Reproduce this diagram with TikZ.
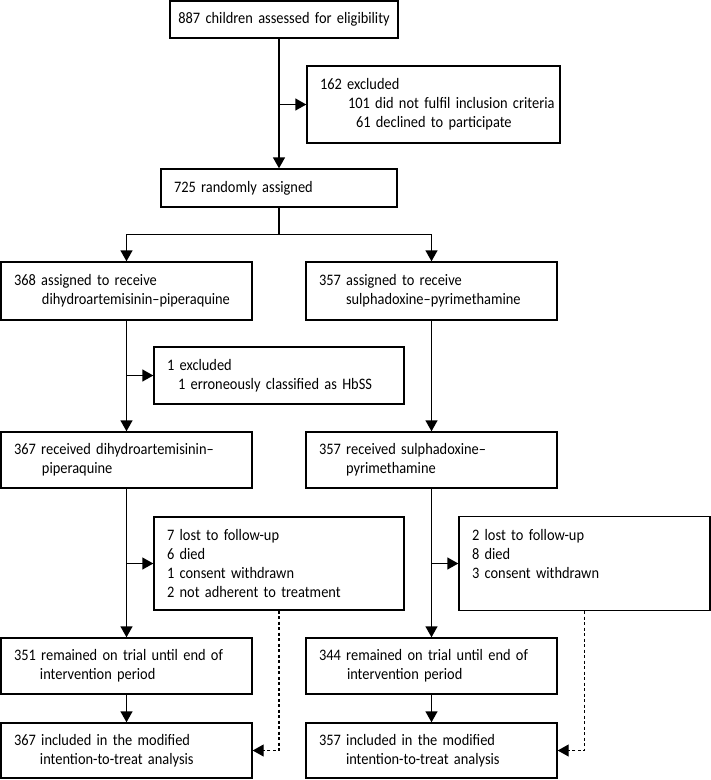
\documentclass[tikz,border=0pt]{standalone}
\usepackage{fontspec}
\setmainfont{Carlito}[FakeStretch=0.9]
\usetikzlibrary{arrows.meta}
\begin{document}
\begin{tikzpicture}[x=1pt,y=-1pt,
  box/.style={draw, line width=1.4pt, inner xsep=13pt, inner ysep=0pt, align=left,
    font=\fontsize{16}{18.8}\selectfont},
  arr/.style={line width=1.4pt, -{Triangle[width=12pt,length=11pt]}},
  darr/.style={line width=1.1pt, dash pattern=on 3pt off 2.5pt, -{Triangle[width=12pt,length=11pt]}}]
\useasboundingbox (0,0) rectangle (711,780);
\node[box, inner xsep=4pt, text width=220pt, minimum height=37pt, align=center] (B1) at (284,19.5) {887 children assessed for eligibility};
\node[box, text width=227pt, minimum height=77pt] (B2) at (433.5,104.5) {162 excluded\\\mbox{\hspace*{28pt}101 did not fulfil inclusion criteria}\\\hspace*{36pt}61 declined to participate};
\node[box, text width=210pt, minimum height=38pt] (B3) at (279,188) {725 randomly assigned};
\node[box, text width=225pt, minimum height=58pt] (B4) at (126.5,291) {368 assigned to receive\\\hspace*{28pt}dihydroartemisinin–piperaquine};
\node[box, text width=225pt, minimum height=58pt] (B5) at (431.5,291) {357 assigned to receive\\\hspace*{27pt}sulphadoxine–pyrimethamine};
\node[box, text width=224pt, minimum height=57pt] (B6) at (279,375.5) {1 excluded\\\hspace*{11pt}1 erroneously classified as HbSS};
\node[box, text width=225pt, minimum height=56pt] (B7) at (126.5,460) {367 received dihydroartemisinin–\\\hspace*{28pt}piperaquine};
\node[box, text width=225pt, minimum height=56pt] (B8) at (431.5,460) {357 received sulphadoxine–\\\hspace*{27pt}pyrimethamine};
\node[box, text width=224pt, minimum height=93pt] (B9) at (279,563.5) {7 lost to follow-up\\6 died\\1 consent withdrawn\\2 not adherent to treatment};
\node[box, text width=225pt, minimum height=94pt] (B10) at (584.5,563.5) {2 lost to follow-up\\8 died\\3 consent withdrawn\\\mbox{}};
\node[box, text width=225pt, minimum height=56pt] (B11) at (126.5,666) {351 remained on trial until end of\\\hspace*{26pt}intervention period};
\node[box, text width=225pt, minimum height=56pt] (B12) at (431.5,666) {344 remained on trial until end of\\\hspace*{28pt}intervention period};
\node[box, text width=225pt, minimum height=55pt] (B13) at (126.5,750.5) {367 included in the modified\\\hspace*{26pt}intention-to-treat analysis};
\node[box, text width=225pt, minimum height=55pt] (B14) at (431.5,750.5) {357 included in the modified\\\hspace*{27pt}intention-to-treat analysis};
\draw[arr] (B1.south -| B3.north) -- (B3.north);
\draw[arr] (B3.north |- B2.west) -- (B2.west);
\draw[line width=1.4pt] (B3.south) -- ++(0,27) coordinate (split);
\draw[arr] (split) -| (B4.north);
\draw[arr] (split) -| (B5.north);
\draw[arr] (B4.south) -- (B7.north);
\draw[arr] (B4.south |- B6.west) -- (B6.west);
\draw[arr] (B5.south) -- (B8.north);
\draw[arr] (B7.south) -- (B11.north);
\draw[arr] (B7.south |- B9.west) -- (B9.west);
\draw[arr] (B8.south) -- (B12.north);
\draw[arr] (B8.south |- B10.west) -- (B10.west);
\draw[arr] (B11.south) -- (B13.north);
\draw[arr] (B12.south) -- (B14.north);
\draw[darr] (B9.south) |- (B13.east);
\draw[darr] (B10.south) |- (B14.east);
\end{tikzpicture}
\end{document}
